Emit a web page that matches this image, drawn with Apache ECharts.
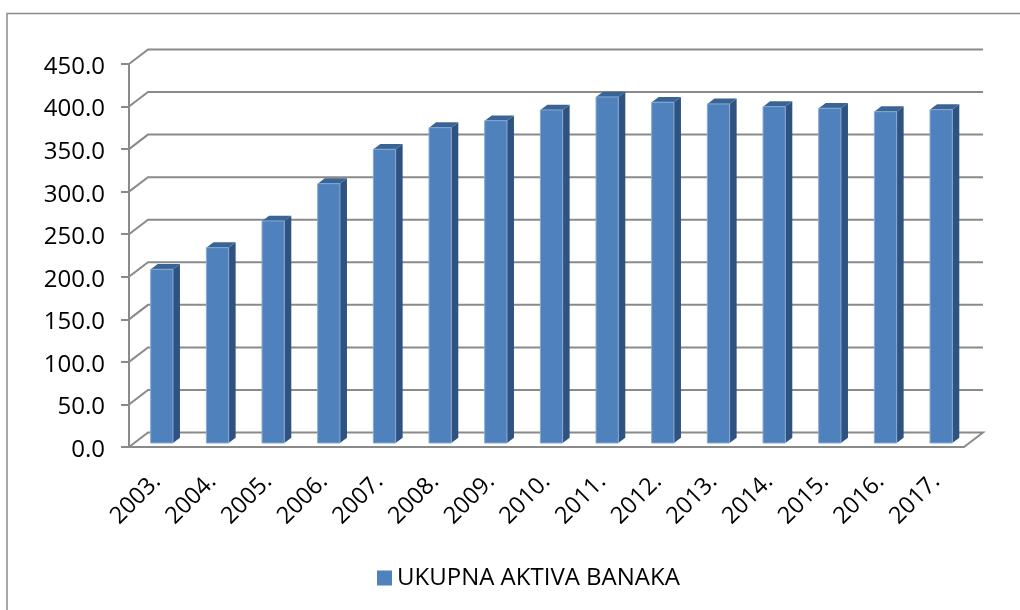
<!DOCTYPE html>
<html>
<head>
<meta charset="utf-8">
<script src="https://cdn.jsdelivr.net/npm/echarts@6/dist/echarts.min.js"></script>
<style>
    html, body { margin: 0; padding: 0; background: #fff; }
    #main { width: 1020px; height: 610px; }
</style>
</head>
<body>
<div id="main"></div>
<script>
    const years = ['2003.', '2004.', '2005.', '2006.', '2007.', '2008.', '2009.', '2010.', '2011.', '2012.', '2013.', '2014.', '2015.', '2016.', '2017.']
    const aktiva = [204.1, 229.5, 260.9, 304.7, 345.1, 370.5, 378.7, 391.3, 406.6, 400.4, 398.4, 395.2, 393.3, 389.3, 391.7]
    const yTicks = [0, 50, 100, 150, 200, 250, 300, 350, 400, 450]

    const fontName = '"Open Sans"'
    const axisColor = '#8a8a8a'
    // pseudo 3D offsets in pixels
    const wallDx = 19, wallDy = -14.5
    const barDx = 5, barDy = -4
    const depthDx = 7, depthDy = -5.3

    function renderWall(params, api) {
        let cs = params.coordSys
        let y = api.coord([0, api.value(0)])[1]
        let x0 = cs.x, x1 = cs.x + cs.width
        let pts = [[x0, y], [x0 + wallDx, y + wallDy], [x1 + wallDx, y + wallDy]]
        // the floor also closes on the right side
        if (api.value(0) === 0) pts.push([x1, y])
        return {
            type: 'polyline',
            shape: { points: pts },
            style: { fill: null, stroke: axisColor, lineWidth: 2 }
        }
    }

    function renderBar(params, api) {
        let top = api.coord([api.value(0), api.value(1)])
        let base = api.coord([api.value(0), 0])
        let w = api.size([1, 0])[0] * 0.4
        let l = top[0] - w / 2 + barDx, r = l + w
        let t = top[1] + barDy, b = base[1] + barDy
        return {
            type: 'group',
            children: [
                {
                    type: 'polygon',
                    shape: { points: [[r, t], [r + depthDx, t + depthDy], [r + depthDx, b + depthDy], [r, b]] },
                    style: { fill: '#2f5380' }
                },
                {
                    type: 'polygon',
                    shape: { points: [[l, t], [l + depthDx, t + depthDy], [r + depthDx, t + depthDy], [r, t]] },
                    style: { fill: '#3a6496' }
                },
                {
                    type: 'rect',
                    shape: { x: l, y: t, width: w, height: b - t },
                    style: { fill: '#4f81bd', stroke: '#86a9d4', lineWidth: 1 }
                }
            ]
        }
    }

    let myChart = echarts.init(document.getElementById('main'))
    let option = {
        animation: false,
        textStyle: { fontFamily: fontName },
        grid: { left: 129, right: 56, top: 64, height: 383 },
        legend: {
            data: ['UKUPNA AKTIVA BANAKA'],
            left: 372,
            top: 561,
            icon: 'rect',
            itemWidth: 15,
            itemHeight: 15,
            textStyle: { color: '#000', fontSize: 24, fontFamily: fontName }
        },
        xAxis: {
            type: 'category',
            data: years,
            axisLine: { lineStyle: { color: axisColor, width: 2 } },
            axisTick: { length: 9, lineStyle: { color: axisColor, width: 2 } },
            axisLabel: { rotate: 45, color: '#000', fontSize: 23.5, margin: 31, interval: 0 }
        },
        yAxis: {
            type: 'value',
            min: 0,
            max: 450,
            interval: 50,
            axisLine: { show: true, lineStyle: { color: axisColor, width: 2 } },
            axisTick: { show: true, length: 8, lineStyle: { color: axisColor, width: 2 } },
            // small line box pushes the digits down to sit level with the ticks
            axisLabel: { color: '#000', fontSize: 24, margin: 24, verticalAlign: 'top', lineHeight: 6, formatter: v => v.toFixed(1) },
            splitLine: { show: false }
        },
        series: [
            {
                name: 'wall',
                type: 'custom',
                renderItem: renderWall,
                data: yTicks.map(v => [v]),
                encode: { y: 0 },
                silent: true,
                z: 1
            },
            {
                name: 'UKUPNA AKTIVA BANAKA',
                type: 'custom',
                renderItem: renderBar,
                data: aktiva.map((v, i) => [i, v]),
                encode: { x: 0, y: 1 },
                itemStyle: { color: '#4f81bd' },
                z: 3
            }
        ],
        graphic: [
            {
                type: 'polyline',
                shape: { points: [[7, 610], [7, 13.5], [1020, 13.5]] },
                style: { fill: null, stroke: '#8c8c8c', lineWidth: 1.5 }
            }
        ]
    }
    myChart.setOption(option)
</script>
</body>
</html>
